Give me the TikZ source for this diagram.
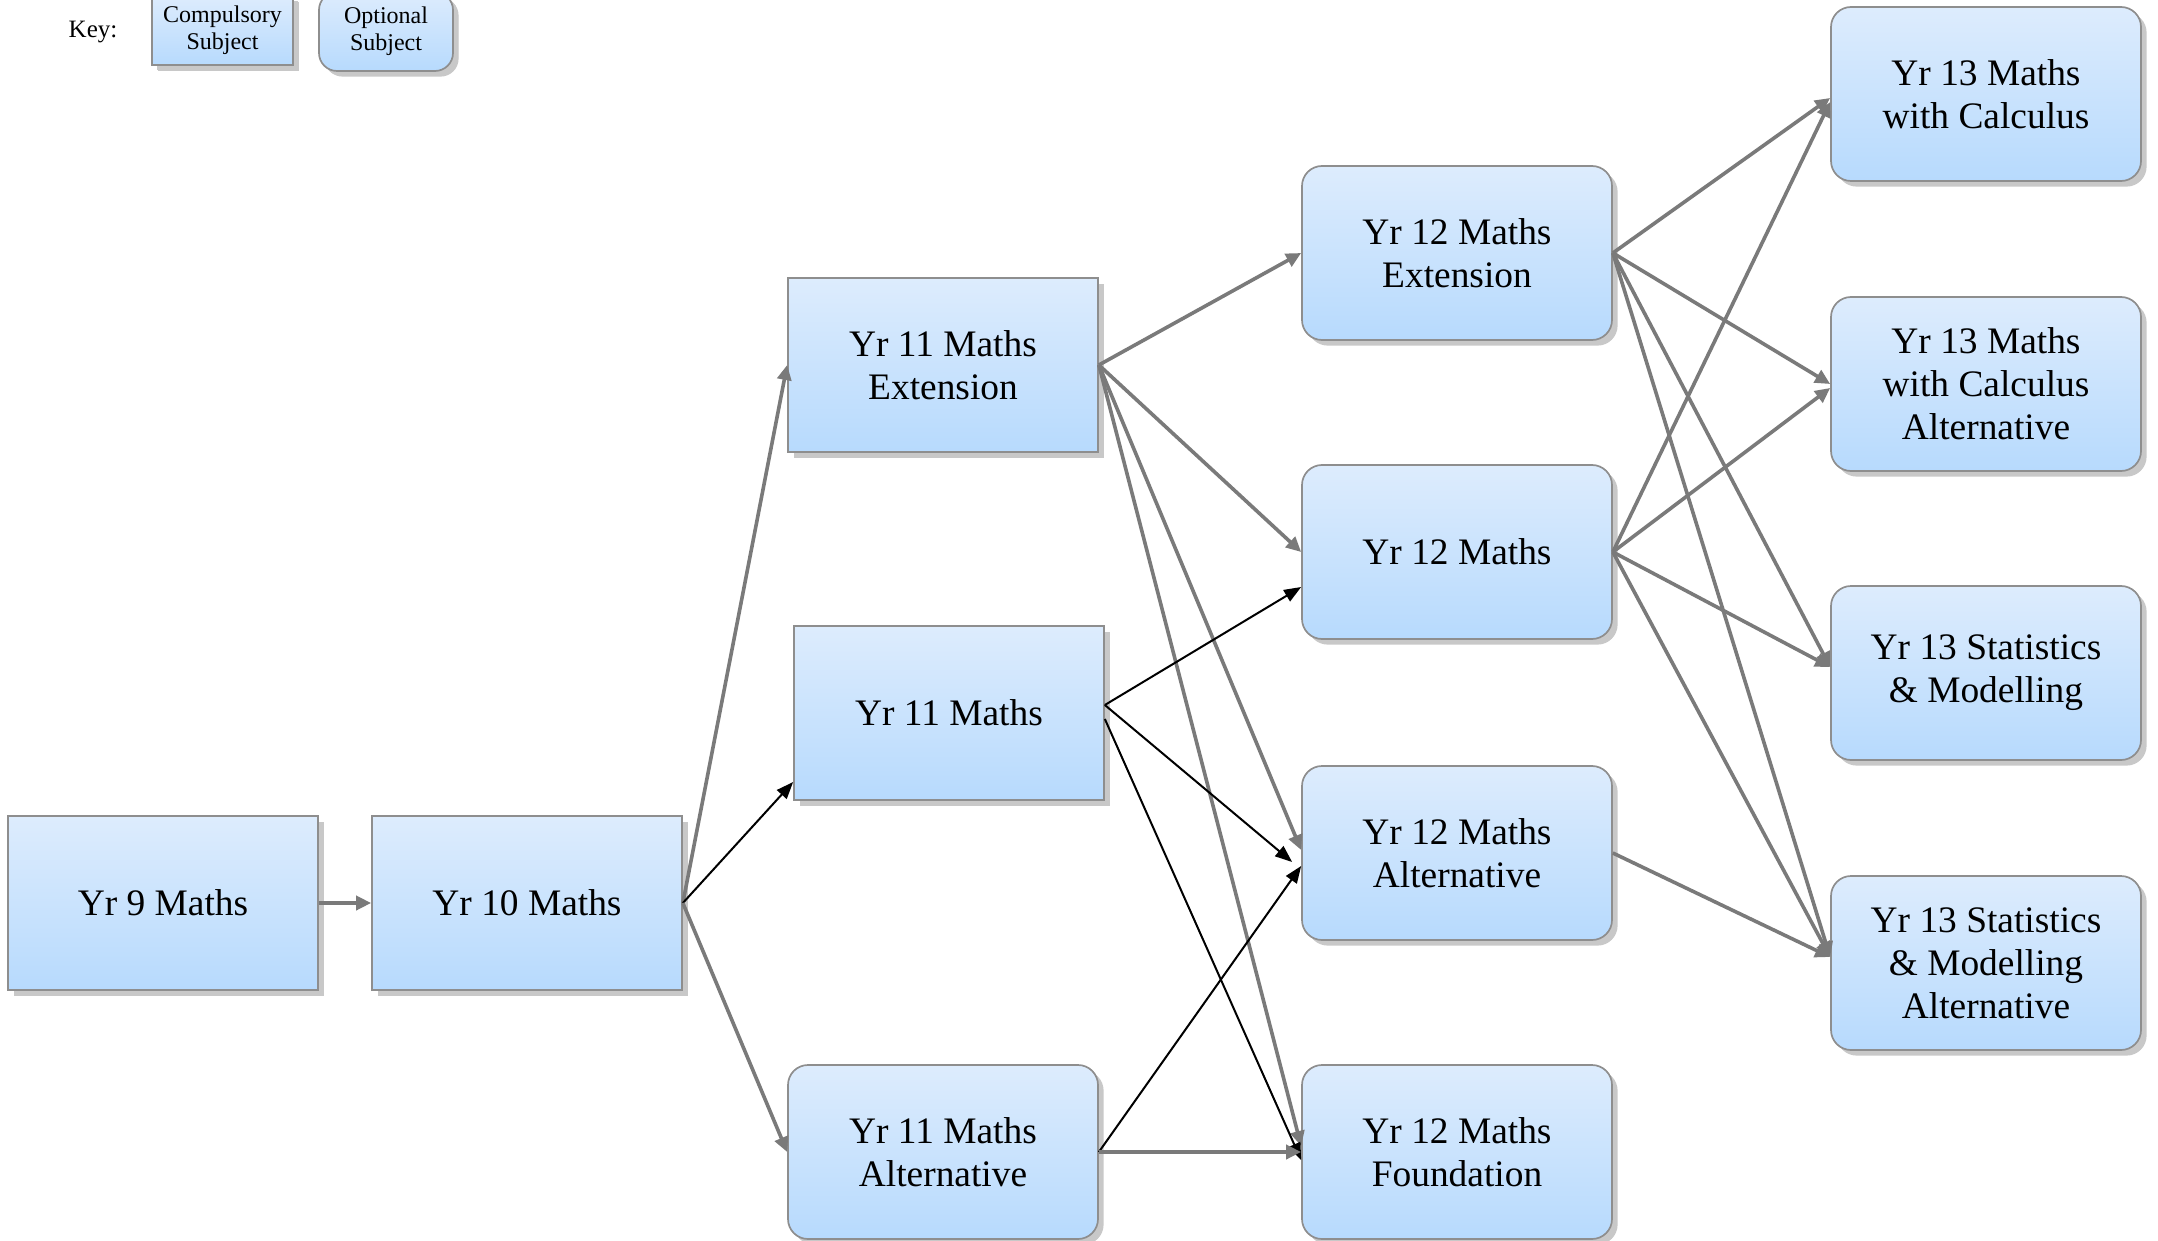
\documentclass[tikz,border=0pt]{standalone}
\usepackage{fontspec}
\setmainfont{Liberation Serif}
\usetikzlibrary{arrows.meta,shadows}
\definecolor{boxtop}{HTML}{DDECFD}
\definecolor{boxbot}{HTML}{B7DAFD}
\definecolor{boxline}{HTML}{8E8E8E}
\definecolor{linegray}{HTML}{7A7A7A}
\definecolor{shadowgray}{HTML}{C8C8C8}
\begin{document}
\begin{tikzpicture}[x=0.5pt,y=-0.5pt,
  box/.style={draw=boxline, line width=0.85pt, top color=boxtop, bottom color=boxbot,
    minimum width=155pt, minimum height=87pt, inner sep=0pt, align=center,
    font=\fontsize{18.7}{21.5}\selectfont,
    drop shadow={shadow xshift=2.8pt, shadow yshift=-2.8pt, fill=shadowgray, opacity=1}},
  comp/.style={box},
  opt/.style={box, rounded corners=10pt},
  keybox/.style={box, font=\fontsize{12}{13.5}\selectfont, drop shadow={shadow xshift=2.5pt, shadow yshift=-2.5pt, fill=shadowgray, opacity=1}},
  garrow/.style={draw=linegray, line width=1.8pt, -{Triangle[length=7.5pt,width=7pt]}},
  barrow/.style={draw=black, line width=1pt, -{Triangle[length=8.5pt,width=6.5pt]}},
]
\fill[white] (0,0) rectangle (2158,1241);
\useasboundingbox (0,0) rectangle (2158,1241);

% key
\node[font=\fontsize{12.5}{14}\selectfont] (key) at (93,32) {Key:};
\node[keybox, minimum width=70.5pt, minimum height=34.5pt] (kc) at (222.5,30.5) {Compulsory\\Subject};
\node[keybox, rounded corners=9pt, minimum width=67pt, minimum height=39.5pt] (ko) at (386,31.5) {Optional\\Subject};

% nodes
\node[comp] (y9) at (163,903) {Yr 9 Maths};
\node[comp] (y10) at (527,903) {Yr 10 Maths};
\node[comp] (e11) at (943,365) {Yr 11 Maths\\Extension};
\node[comp] (m11) at (949,713) {Yr 11 Maths};
\node[opt] (a11) at (943,1152) {Yr 11 Maths\\Alternative};
\node[opt] (e12) at (1457,253) {Yr 12 Maths\\Extension};
\node[opt] (m12) at (1457,552) {Yr 12 Maths};
\node[opt] (a12) at (1457,853) {Yr 12 Maths\\Alternative};
\node[opt] (f12) at (1457,1152) {Yr 12 Maths\\Foundation};
\node[opt] (c13) at (1986,94) {Yr 13 Maths\\with Calculus};
\node[opt] (ca13) at (1986,384) {Yr 13 Maths\\with Calculus\\Alternative};
\node[opt] (s13) at (1986,673) {Yr 13 Statistics\\\& Modelling};
\node[opt] (sa13) at (1986,963) {Yr 13 Statistics\\\& Modelling\\Alternative};

% year 9 -> 10 -> 11
\draw[garrow] (y9.east) -- (y10.west);
\draw[garrow] (y10.east) -- (e11.west);
\draw[barrow] (y10.east) -- ([yshift=-34.5pt]m11.west);
\draw[garrow] (y10.east) -- (a11.west);

% year 11 -> 12
\draw[garrow] (e11.east) -- (e12.west);
\draw[garrow] (e11.east) -- (m12.west);
\draw[garrow] (e11.east) -- ([yshift=1.5pt]a12.west);
\draw[garrow] (e11.east) -- ([yshift=3pt]f12.west);
\draw[barrow] ([yshift=4pt]m11.east) -- ([yshift=-17.5pt]m12.west);
\draw[barrow] ([yshift=4pt]m11.east) -- ([xshift=-4.5pt,yshift=-4.5pt]a12.west);
\draw[barrow] ([yshift=-3pt]m11.east) -- ([yshift=-4pt]f12.west);
\draw[barrow] (a11.east) -- ([yshift=-6.5pt]a12.west);
\draw[garrow] (a11.east) -- (f12.west);

% year 12 -> 13
\draw[garrow] (e12.east) -- ([yshift=-2pt]c13.west);
\draw[garrow] (e12.east) -- (ca13.west);
\draw[garrow] (e12.east) -- ([yshift=3pt]s13.west);
\draw[garrow] (e12.east) -- ([yshift=3pt]sa13.west);
\draw[garrow] (m12.east) -- ([yshift=-4pt]c13.west);
\draw[garrow] (m12.east) -- ([yshift=-2pt]ca13.west);
\draw[garrow] (m12.east) -- ([yshift=3pt]s13.west);
\draw[garrow] (m12.east) -- ([yshift=3pt]sa13.west);
\draw[garrow] (a12.east) -- ([yshift=3pt]sa13.west);
\end{tikzpicture}
\end{document}
